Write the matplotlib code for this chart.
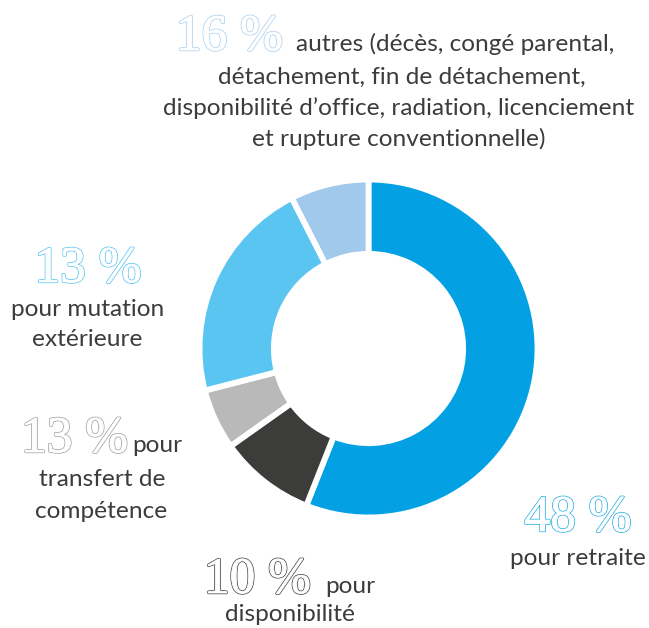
import matplotlib
matplotlib.use("Agg")
from matplotlib import pyplot as plt
import matplotlib.patheffects as pe

## DATA
# wedge sizes read off the ring (percent of circle), clockwise from the top
categories = ["retraite", "disponibilite", "transfert", "mutation", "autres"]
sliceValues = [56.0, 9.2, 5.8, 21.5, 7.5]
sliceColors = ["#03a1e3", "#3c3c3b", "#b9b9b9", "#5bc5f2", "#a0c9ec"]

# labels printed on the chart
pctLabels = ["48 %", "10 %", "13 %", "13 %", "16 %"]
pctColors = ["#1ea9e4", "#3c3c3b", "#9d9d9c", "#4fc0f0", "#a8cdee"]

W, H = 649, 628
fig = plt.figure(figsize=(W / 100, H / 100), dpi=100)

def px(x, y):
    return x / W, 1 - y / H

# RING
cx, cy, R = 368.5, 348.5, 169
ax = fig.add_axes([(cx - R) / W, 1 - (cy + R) / H, 2 * R / W, 2 * R / H])
ax.pie(sliceValues, colors=sliceColors, startangle=90, counterclock=False,
       radius=1.0, wedgeprops=dict(width=0.44, edgecolor="white", linewidth=4.2))
ax.set_xlim(-1, 1)
ax.set_ylim(-1, 1)
ax.set_aspect("equal")
ax.axis("off")

textColor = "#3c3c3b"
labelFont = dict(family="Lato", fontsize=17.6, color=textColor)

def bigPct(x, y, s, col, ha):
    fx, fy = px(x, y)
    fig.text(fx, fy, s, fontsize=37, family="Liberation Serif", color="white",
             ha=ha, va="baseline",
             path_effects=[pe.Normal(),
                           pe.Stroke(linewidth=1.7, foreground=col),
                           pe.Stroke(linewidth=0.7, foreground="white")])

def small(x, y, s, ha="center"):
    fx, fy = px(x, y)
    fig.text(fx, fy, s, ha=ha, va="baseline", **labelFont)

# retraite
bigPct(578, 531, pctLabels[0], pctColors[0], "center")
small(578, 565, "pour retraite")

# disponibilite
bigPct(311, 593, pctLabels[1], pctColors[1], "right")
small(325, 593, "pour", ha="left")
small(290, 621, "disponibilité")

# transfert
bigPct(128, 452, pctLabels[2], pctColors[2], "right")
small(132, 452, "pour", ha="left")
small(102, 486, "transfert de")
small(101, 518, "compétence")

# mutation
bigPct(88, 282, pctLabels[3], pctColors[3], "center")
small(88, 316, "pour mutation")
small(87, 346, "extérieure")

# autres
bigPct(283, 50, pctLabels[4], pctColors[4], "right")
small(296, 51, "autres (décès, congé parental,", ha="left")
small(402, 84, "détachement, fin de détachement,")
small(399, 115, "disponibilité d\u2019office, radiation, licenciement")
small(399, 146, "et rupture conventionnelle)")

fig.savefig("out.png", dpi=100)
